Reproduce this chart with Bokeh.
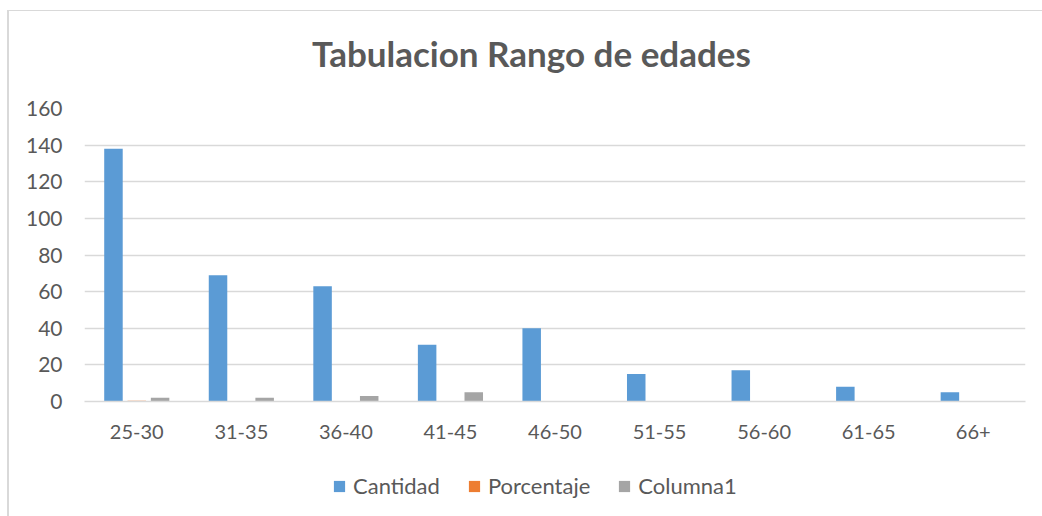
from bokeh.plotting import figure
from bokeh.layouts import column
from bokeh.models import ColumnDataSource, FactorRange, Range1d, Legend, LegendItem, SingleIntervalTicker
from bokeh.core.properties import value
from bokeh.transform import dodge
from bokeh.embed import file_html
from bokeh.resources import INLINE

title_text = "Tabulacion Rango de edades"
categories = ["25-30", "31-35", "36-40", "41-45", "46-50", "51-55", "56-60", "61-65", "66+"]
cantidad = [138, 69, 63, 31, 40, 15, 17, 8, 5]
porcentaje = [0.36, 0.18, 0.16, 0.08, 0.10, 0.04, 0.04, 0.02, 0.01]
columna1 = [2, 2, 3, 5, 0, 0, 0, 0, 0]
series_names = ["Cantidad", "Porcentaje", "Columna1"]
colors = ["#5B9BD5", "#ED7D31", "#A5A5A5"]

FONT = "Lato"
TXT = "#595959"
W = 1033
BL, BR = 75, 17

# title strip
p0 = figure(width=W, height=80, x_axis_type=None, y_axis_type=None, output_backend="svg",
            toolbar_location=None, min_border_left=BL, min_border_right=BR,
            min_border_top=0, min_border_bottom=0, x_range=Range1d(0, 1), y_range=Range1d(0, 1))
p0.outline_line_color = None
p0.grid.visible = False
p0.text(x=[0.475], y=[0.4875], text=[title_text], text_align="center", text_baseline="alphabetic",
        text_font=value(FONT), text_font_size="35px", text_font_style="bold", text_color=TXT)

src = ColumnDataSource(dict(cat=categories, Cantidad=cantidad, Porcentaje=porcentaje, Columna1=columna1))

p = figure(width=W, height=379, x_range=FactorRange(*categories, range_padding=0),
           y_range=Range1d(0, 160), output_backend="svg", toolbar_location=None,
           min_border_left=BL, min_border_right=BR, min_border_top=17, min_border_bottom=69)

offsets = [-0.223, 0.0, 0.223]
renderers = []
for name, col, off in zip(series_names, colors, offsets):
    r = p.vbar(x=dodge("cat", off, range=p.x_range), top=name, width=0.177, source=src,
               fill_color=col, line_color=None)
    renderers.append(r)

p.outline_line_color = None
p.xgrid.grid_line_color = None
p.ygrid.grid_line_color = "#d9d9d9"
p.ygrid.grid_line_width = 1.3
p.yaxis.ticker = SingleIntervalTicker(interval=20)
p.yaxis.axis_line_color = None
p.yaxis.major_tick_line_color = None
p.yaxis.minor_tick_line_color = None
p.yaxis.major_label_text_font = FONT
p.yaxis.major_label_text_font_size = "21px"
p.yaxis.major_label_text_color = TXT
p.yaxis.major_label_standoff = 16

p.xaxis.axis_line_color = "#d9d9d9"
p.xaxis.axis_line_width = 1.3
p.xaxis.major_tick_line_color = None
p.xaxis.minor_tick_line_color = None
p.xaxis.major_label_text_font = FONT
p.xaxis.major_label_text_font_size = "20px"
p.xaxis.major_label_text_color = TXT
p.xaxis.major_label_standoff = 17

# legend strip below the chart
p2 = figure(width=W, height=46, x_axis_type=None, y_axis_type=None, output_backend="svg",
            toolbar_location=None, min_border_left=BL, min_border_right=BR,
            min_border_top=0, min_border_bottom=0, x_range=Range1d(0, 1), y_range=Range1d(0, 1))
p2.outline_line_color = None
p2.grid.visible = False
leg_r = []
for col in colors:
    leg_r.append(p2.vbar(x=[0.5], top=[-5], bottom=[-6], width=0.1, fill_color=col, line_color=None))

legend = Legend(items=[LegendItem(label=n, renderers=[r]) for n, r in zip(series_names, leg_r)],
                orientation="horizontal", location=(248, 17),
                label_text_font=FONT, label_text_font_size="22px", label_text_color=TXT,
                glyph_width=14, glyph_height=14, label_standoff=7, spacing=27,
                border_line_color=None, background_fill_alpha=0, margin=0, padding=4)
p2.add_layout(legend, "center")

layout = column(p0, p, p2, spacing=0, margin=(10, 0, 0, 7),
                styles={"border-left": "2px solid #d9d9d9", "border-top": "1px solid #d9d9d9"})
open("out.html", "w").write(file_html(layout, INLINE))
